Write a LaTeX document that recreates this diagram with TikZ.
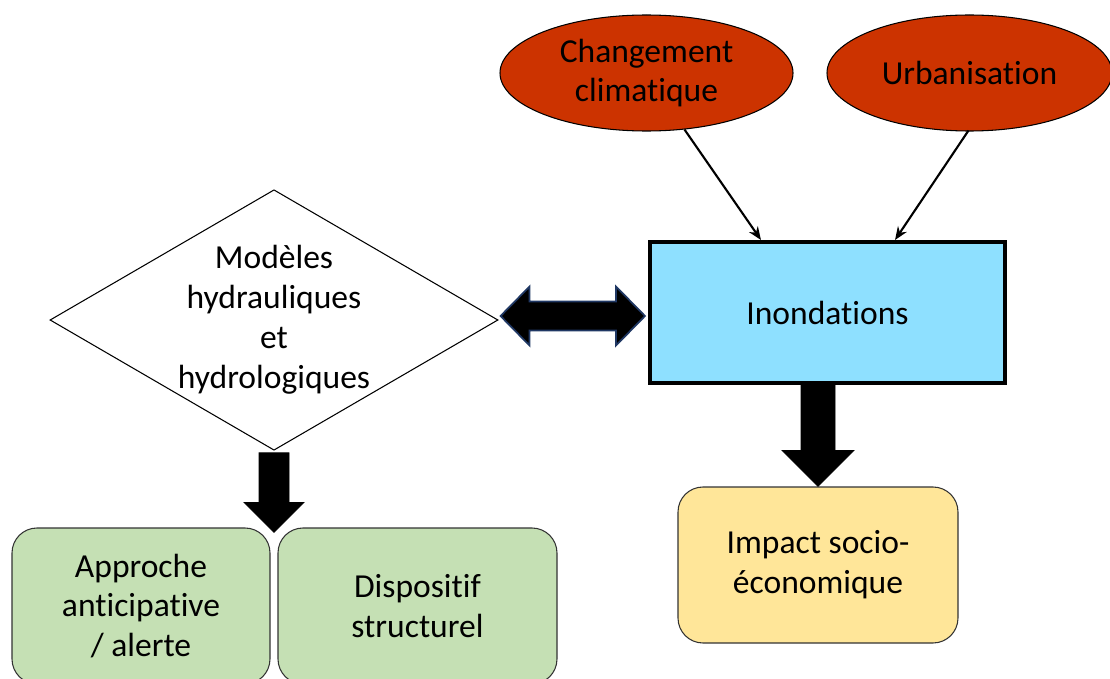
\documentclass[tikz,border=0pt]{standalone}
\usepackage{fontspec}
\setmainfont{Carlito}[Ligatures={NoCommon,NoContextual}]
\usetikzlibrary{shapes.geometric}
\usetikzlibrary{arrows.meta}
\usetikzlibrary{calc}
\newdimen\pxu
\pxu=0.02cm
\definecolor{causered}{HTML}{CC3300}
\definecolor{floodcyan}{HTML}{8EE0FF}
\definecolor{impactyellow}{HTML}{FFE699}
\definecolor{measuregreen}{HTML}{C5E0B4}
\definecolor{navyedge}{HTML}{203864}

\begin{document}
\begin{tikzpicture}[x=0.02cm, y=-0.02cm,
    every node/.style={font=\fontsize{19.1}{22.7}\selectfont, align=center, inner sep=0pt},
    causebox/.style={ellipse, draw, fill=causered, line width=0.6pt, minimum width=293\pxu, minimum height=116\pxu},
    floodbox/.style={rectangle, draw, fill=floodcyan, line width=2.3pt},
    modelbox/.style={diamond, draw, line width=0.6pt, shape aspect=1.72, minimum width=448\pxu, minimum height=260\pxu},
    impactbox/.style={rectangle, rounded corners=25\pxu, draw=black!80, fill=impactyellow, line width=0.6pt},
    measurebox/.style={rectangle, rounded corners=25\pxu, draw=black!80, fill=measuregreen, line width=0.6pt},
    thinarrow/.style={-{Stealth[length=7.5pt, width=6pt]}, line width=1.2pt},
    blockarrow/.style={fill=black, draw=black},
    dblarrow/.style={fill=black, draw=navyedge, line width=1pt, line join=miter}]
  \useasboundingbox (0,0) rectangle (1110,679);

  \node[causebox] (clim) at (646.5,73) {Changement\\climatique};
  \node[causebox, minimum width=285\pxu] (urb) at (969.5,73) {Urbanisation};
  \node[floodbox, minimum width=355\pxu, minimum height=141\pxu] (inond) at (827.5,312.5) {Inondations};
  \node[modelbox] (model) at (274,320) {Modèles\\hydrauliques\\et\\hydrologiques};
  \node[impactbox, minimum width=280\pxu, minimum height=156\pxu] (socio) at (818,565) {Impact socio-\\économique};
  \node[measurebox, minimum width=258\pxu, minimum height=156\pxu] (appr) at (141,606) {Approche\\anticipative\\/ alerte};
  \node[measurebox, minimum width=279\pxu, minimum height=156\pxu] (disp) at (417.5,606) {Dispositif\\structurel};

  \draw[thinarrow] ($(clim.south)+(38,-2)$) -- ($(inond.north west)+(113,0)$);
  \draw[thinarrow] ($(urb.south)+(-1,-1)$) -- ($(inond.north east)+(-112,0)$);

  \coordinate (dflood) at (inond.south -| socio.north);
  \draw[blockarrow] ($(dflood)+(-17,0)$) -- ($(socio.north)+(-17,-36)$) -- ($(socio.north)+(-36,-36)$) -- (socio.north)
    -- ($(socio.north)+(36,-36)$) -- ($(socio.north)+(17,-36)$) -- ($(dflood)+(17,0)$) -- cycle;

  \coordinate (dtip) at ($(appr.north east)!0.5!(disp.north west)+(0,5)$);
  \draw[blockarrow] ($(model.south)+(-15,2)$) -- ($(dtip)+(-15,-30)$) -- ($(dtip)+(-30,-30)$) -- (dtip)
    -- ($(dtip)+(30,-30)$) -- ($(dtip)+(15,-30)$) -- ($(model.south)+(15,2)$) -- cycle;

  \coordinate (dleft) at ($(model.east)+(2,-4)$);
  \coordinate (dright) at ($(inond.west |- dleft)+(-3,0)$);
  \draw[dblarrow] (dleft) -- ($(dleft)+(29,-29.5)$) -- ($(dleft)+(29,-14.5)$) -- ($(dright)+(-29,-14.5)$)
    -- ($(dright)+(-29,-29.5)$) -- (dright) -- ($(dright)+(-29,29.5)$) -- ($(dright)+(-29,14.5)$)
    -- ($(dleft)+(29,14.5)$) -- ($(dleft)+(29,29.5)$) -- cycle;
\end{tikzpicture}
\end{document}
